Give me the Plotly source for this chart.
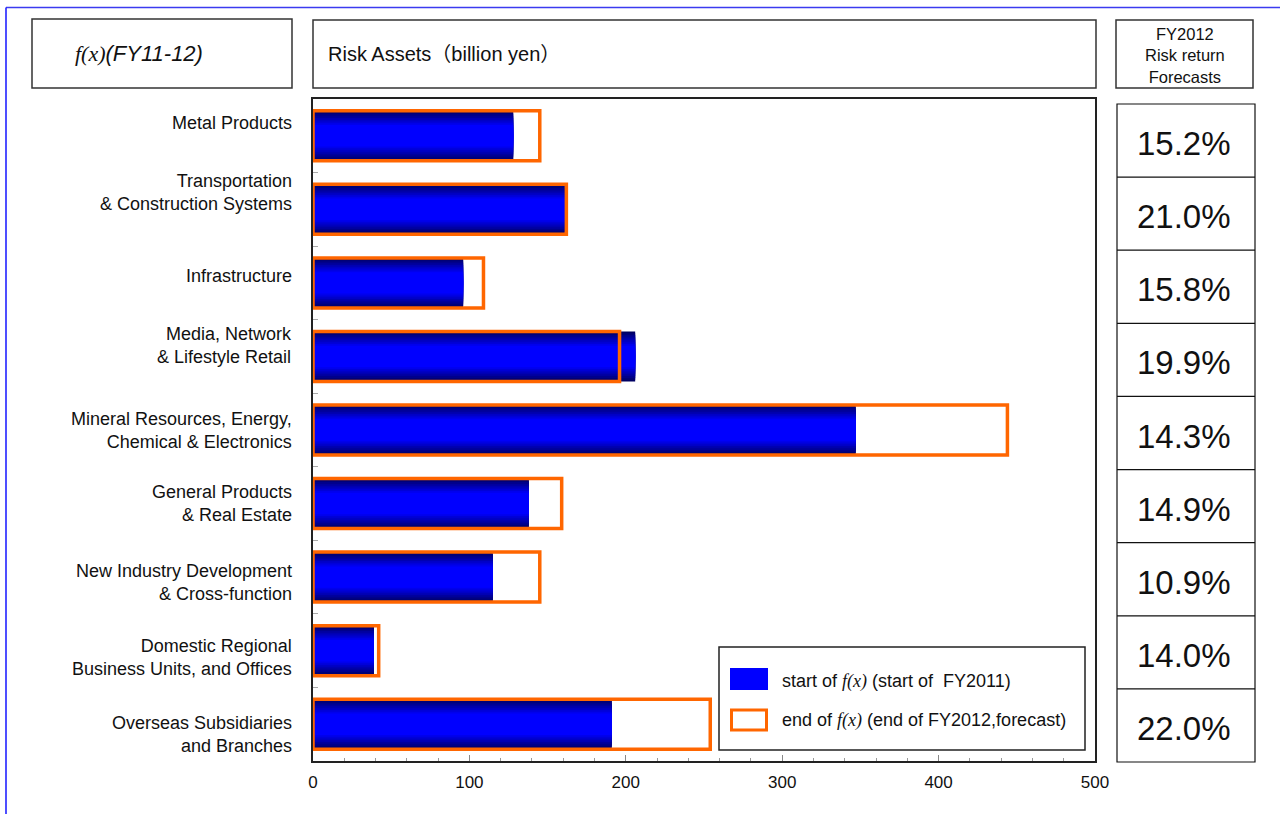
import plotly.graph_objects as go

# ---- data -------------------------------------------------------------
categories = [
    "Metal Products",
    "Transportation<br>& Construction Systems",
    "Infrastructure",
    "Media, Network<br>& Lifestyle Retail",
    "Mineral Resources, Energy,<br>Chemical & Electronics",
    "General Products<br>& Real Estate",
    "New Industry Development<br>& Cross-function",
    "Domestic Regional<br>Business Units, and Offices",
    "Overseas Subsidiaries<br>and Branches",
]
start_fy2011 = [128, 161, 96, 206, 347, 138, 115, 39, 191]
end_fy2012 = [145, 162, 109, 196, 444, 159, 145, 42, 254]
risk_return = ["15.2%", "21.0%", "15.8%", "19.9%", "14.3%", "14.9%", "10.9%", "14.0%", "22.0%"]
x_ticks = [0, 100, 200, 300, 400, 500]

# ---- page geometry (pixels) ------------------------------------------
W, H = 1280, 814
L, R, T, B = 313, 185, 99, 53
PW, PH = W - L - R, H - T - B

def px(p):
    return (p - L) / PW

def py(p):
    return (H - B - p) / PH

SANS = "Liberation Sans, Arial, Noto Sans CJK JP, sans-serif"
SERIF = "Liberation Serif, Times New Roman, serif"
ORANGE = "#ff6600"
BAR_W = 0.68

fig = go.Figure()

# blue bars with a vertical navy -> blue -> navy shading, built from nested bars
N = 14
for k in range(N):
    s = min(1.0, (k + 0.5) / N / 0.6)
    r, g, b = 0, 0, int(90 + (255 - 90) * s)
    fig.add_trace(go.Bar(
        y=categories, x=start_fy2011, orientation="h",
        width=BAR_W * (1 - k / N),
        marker=dict(color=f"rgb({r},{g},{b})", line=dict(width=0)),
        hoverinfo="skip", showlegend=False,
    ))

# forecast outline bars
fig.add_trace(go.Bar(
    y=categories, x=end_fy2012, orientation="h", width=BAR_W,
    marker=dict(color="rgba(0,0,0,0)", line=dict(color=ORANGE, width=3.5)),
    hoverinfo="skip", showlegend=False,
))

shapes = []
annotations = []

def box(x0, y0, x1, y1, color="#333", width=1.5, fill=None):
    shapes.append(dict(type="rect", xref="paper", yref="paper",
                       x0=px(x0), x1=px(x1), y0=py(y1), y1=py(y0),
                       line=dict(color=color, width=width),
                       fillcolor=fill if fill else "rgba(0,0,0,0)", layer="above"))

def text(x, y, s, size=17, xanchor="center", align="center", family=SANS, yshift=0):
    annotations.append(dict(xref="paper", yref="paper", x=px(x), y=py(y), text=s,
                            showarrow=False, xanchor=xanchor, yanchor="middle",
                            align=align, yshift=yshift,
                            font=dict(family=family, size=size, color="#111")))

# outer blue frame
shapes.append(dict(type="line", xref="paper", yref="paper", x0=px(6), x1=px(W),
                   y0=py(7.5), y1=py(7.5), line=dict(color="#3b3bf0", width=1.6)))
shapes.append(dict(type="line", xref="paper", yref="paper", x0=px(6), x1=px(6),
                   y0=py(7.5), y1=py(H), line=dict(color="#2222ff", width=1.6)))

# header boxes
box(32, 19, 292, 88)
text(73, 53, f'<i><span style="font-family:{SERIF}">f(x)</span>(FY11-12)</i>',
     size=22, xanchor="left")
box(313, 20, 1096, 88)
text(326, 54, "Risk Assets（billion yen）", size=20, xanchor="left")
box(1116, 20, 1253, 88)
text(1185, 55, "FY2012<br>Risk return<br>Forecasts", size=16.5)

# forecast table on the right
top, bottom = 104, 762
row_h = (bottom - top) / len(risk_return)
box(1117, top, 1255, bottom, color="#111", width=1.2)
for i in range(1, len(risk_return)):
    yy = top + i * row_h
    shapes.append(dict(type="line", xref="paper", yref="paper", x0=px(1117), x1=px(1255),
                       y0=py(yy), y1=py(yy), line=dict(color="#111", width=1.2)))
for i, v in enumerate(risk_return):
    text(1184, top + (i + 0.5) * row_h + 3, v, size=33)

# category labels
label_lift = [13, 17, 7, 11, 0, 0, -5, -7, -10]
for cat, lift in zip(categories, label_lift):
    annotations.append(dict(xref="paper", yref="y", x=0, y=cat, xshift=-19, yshift=lift,
                            text=cat, showarrow=False, xanchor="right", align="right",
                            yanchor="middle",
                            font=dict(family=SANS, size=18, color="#111")))

# legend
box(719, 647, 1085, 750, color="#222", width=1.5)
box(730, 668, 768, 690, color="#0000ff", width=0, fill="#0000ff")
box(731.5, 710, 766.5, 730, color=ORANGE, width=3)
text(780, 681, f'start of <i><span style="font-family:{SERIF}">f(x)</span></i> (start of  FY2011)',
     size=18, xanchor="left")
text(780, 720, f'end of <i><span style="font-family:{SERIF}">f(x)</span></i> (end of FY2012,forecast)',
     size=18, xanchor="left")

fig.update_layout(
    width=W, height=H,
    margin=dict(l=L, r=R, t=T, b=B, pad=0),
    paper_bgcolor="white", plot_bgcolor="white",
    barmode="overlay",
    showlegend=False,
    shapes=shapes, annotations=annotations,
    font=dict(family=SANS, color="#111"),
)
fig.update_xaxes(
    range=[0, 500], tickvals=x_ticks, ticks="inside", ticklen=6, tickcolor="#888",
    minor=dict(dtick=20, ticks="inside", ticklen=3, tickcolor="#999"),
    showgrid=False, zeroline=False,
    showline=True, mirror=True, linecolor="#222", linewidth=2,
    tickfont=dict(size=17, family=SANS, color="#111"),
    ticklabelstandoff=5,
)
fig.update_yaxes(
    categoryorder="array", categoryarray=categories, autorange="reversed",
    showticklabels=False, ticks="inside", tickson="boundaries", ticklen=5, tickcolor="#aaa",
    showgrid=False, zeroline=False,
    showline=True, mirror=True, linecolor="#222", linewidth=2,
)

fig.write_html("out.html")
